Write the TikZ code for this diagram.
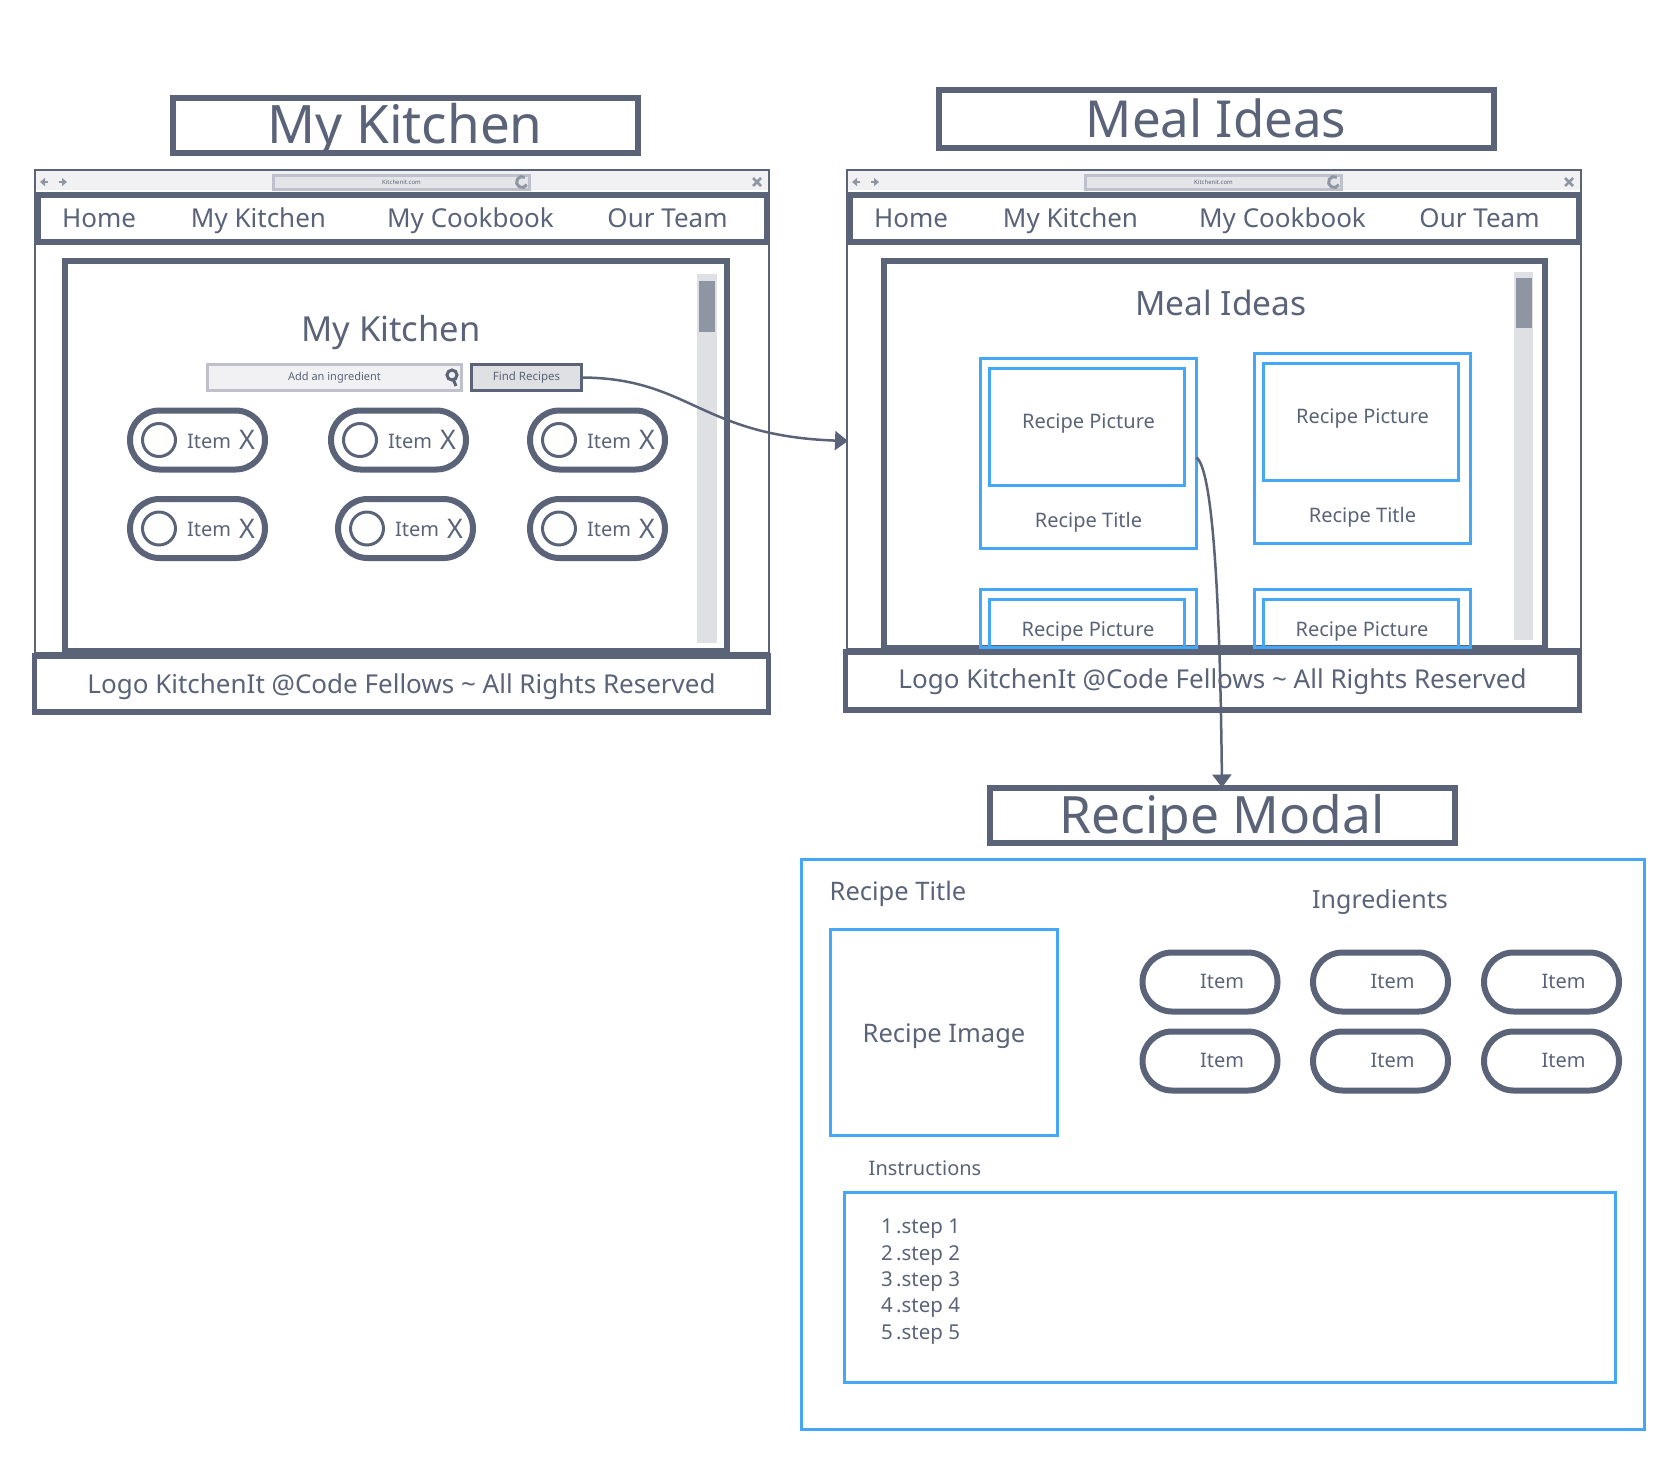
\documentclass[tikz,border=0pt]{standalone}
\usepackage{fontspec}
\setmainfont{Noto Sans}
\usetikzlibrary{arrows.meta,shapes.misc}

\definecolor{ink}{HTML}{5A6378}
\definecolor{wire}{HTML}{44A7F7}
\definecolor{chrome}{HTML}{F1F1F3}
\definecolor{chromeline}{HTML}{BEC1CC}
\definecolor{track}{HTML}{DFE0E3}
\definecolor{thumb}{HTML}{8F96A3}

\tikzset{
  every node/.style={text=ink,inner sep=0pt,outer sep=0pt},
  titlebox/.style={draw=ink,line width=6pt,minimum width=465pt,minimum height=55pt,
    text height=36pt,text depth=0pt,font=\fontsize{51.5pt}{56pt}\selectfont},
  framebox/.style={draw=ink,line width=2.5pt,minimum width=734pt},
  navbox/.style={draw=ink,line width=6pt,fill=white,minimum width=729pt,minimum height=47pt},
  panebox/.style={draw=ink,line width=6pt},
  footbox/.style={draw=ink,line width=5.5pt,fill=white,minimum width=734pt,
    text height=18pt,text depth=0pt,font=\fontsize{26pt}{30pt}\selectfont},
  navtext/.style={anchor=base,font=\fontsize{26pt}{30pt}\selectfont},
  headtext/.style={anchor=base,font=\fontsize{33.5pt}{38pt}\selectfont},
  bodytext/.style={font=\fontsize{20pt}{24pt}\selectfont},
  bigtext/.style={anchor=base,font=\fontsize{25.5pt}{30pt}\selectfont},
  tinytext/.style={font=\fontsize{6pt}{7pt}\selectfont},
  smalltext/.style={font=\fontsize{11pt}{14pt}\selectfont},
  scrolltrack/.style={fill=track,minimum width=19pt},
  scrollthumb/.style={fill=thumb,minimum width=16pt},
  pill/.style={rounded rectangle,draw=ink,line width=6pt,minimum width=135pt,minimum height=59pt},
  itemring/.style={circle,draw=ink,line width=3pt,minimum size=33pt},
  crosstext/.style={font=\fontsize{27pt}{30pt}\selectfont},
  wirebox/.style={draw=wire,line width=3pt},
  link/.style={draw=ink,line width=2.5pt,-{Triangle[length=13pt,width=19pt]}},
  chromeicon/.style={draw=thumb,line width=2.5pt}
}

\newcommand\browser[4]{
\begin{scope}[xshift=#2pt]
\node[framebox,minimum height=#4pt] (#1Frame) at (402,#3) {};
\fill[chrome] (36,171) rectangle (768,190);
\node[draw=chromeline,fill=track!70!chrome,line width=3pt,minimum width=256pt,minimum height=14pt,tinytext] (#1Url) at (401.5,182) {Kitchenit.com};
\draw[chromeicon,-{Triangle[length=5pt,width=8pt]}] (48,182) -- (40,182);
\draw[chromeicon,-{Triangle[length=5pt,width=8pt]}] (59,182) -- (67,182);
\draw[chromeicon,line width=3pt] (526.8,184.8) arc (30:300:5.5);
\draw[chromeicon] (753,178) -- (761,186) (753,186) -- (761,178);
\node[navbox] (#1Nav) at (402.5,218) {};
\node[navtext] (#1Home) at (99,227) {Home};
\node[navtext] (#1Kitchen) at (258.5,227) {My Kitchen};
\node[navtext] (#1Cookbook) at (470.5,227) {My Cookbook};
\node[navtext] (#1Team) at (667.5,227) {Our Team};
\end{scope}
}

\newcommand\pantryItem[3]{
\node[pill] (#1) at (#2,#3) {};
\node[itemring] (#1Ring) at ([xshift=-38.5pt]#1.center) {};
\node[bodytext] (#1Text) at ([xshift=11.5pt,yshift=-1pt]#1.center) {Item};
\node[crosstext] (#1Cross) at ([xshift=49.5pt]#1.center) {X};
}

\newcommand\ingredientItem[3]{
\node[pill] (#1) at (#2,#3) {};
\node[bodytext] (#1Text) at ([xshift=12pt,yshift=1pt]#1.center) {Item};
}

\newcommand\recipeCard[3]{
\node[wirebox,minimum width=216pt,minimum height=190pt] (#1) at (#2,#3) {};
\node[wirebox,minimum width=195pt,minimum height=117pt] (#1Pic) at ([xshift=-2pt,yshift=26.5pt]#1.center) {};
\node[bodytext] (#1PicText) at ([yshift=29.5pt]#1.center) {Recipe Picture};
\node[bodytext] (#1Title) at ([yshift=-68.5pt]#1.center) {Recipe Title};
}

\begin{document}
\begin{tikzpicture}[x=1pt,y=-1pt]
\useasboundingbox (0,0) rectangle (1656,1457);

\node[titlebox,font=\fontsize{53pt}{56pt}\selectfont] (kitchenTitle) at (405,125) {My Kitchen};
\node[titlebox,font=\fontsize{51pt}{56pt}\selectfont,minimum width=555pt,minimum height=58pt] (mealTitle) at (1216,119) {Meal Ideas};

\browser{kitchen}{0}{411.5}{483}
\browser{meal}{812}{409.5}{479}

\node[panebox,minimum width=662pt,minimum height=390pt] (kitchenPane) at (396,456) {};
\node[scrolltrack,minimum width=20pt,minimum height=369pt] (kitchenTrack) at (707,458.5) {};
\node[scrollthumb,minimum height=51pt] (kitchenThumb) at (707,306.5) {};
\node[headtext,font=\fontsize{34.5pt}{38pt}\selectfont] (kitchenHead) at (391,341) {My Kitchen};

\node[draw=chromeline,fill=chrome,line width=3pt,minimum width=254pt,minimum height=26pt,smalltext] (searchBox) at (334.5,377.5) {\raisebox{-1pt}{Add an ingredient}};
\draw[draw=ink,line width=3pt] (452,375) circle (5);
\draw[draw=ink,line width=3pt] (453.5,380) -- (456,386);
\node[draw=ink,fill=track,line width=3pt,minimum width=110pt,minimum height=26pt,font=\fontsize{11.5pt}{14pt}\selectfont] (findRecipes) at (526.5,377.5) {\raisebox{-1pt}{Find Recipes}};

\pantryItem{itemA}{197.5}{440}
\pantryItem{itemB}{398.5}{440}
\pantryItem{itemC}{597.5}{440}
\pantryItem{itemD}{197.5}{528.5}
\pantryItem{itemE}{405.5}{528.5}
\pantryItem{itemF}{597.5}{528.5}

\node[footbox,minimum height=56pt] (kitchenFoot) at (401.5,684) {Logo KitchenIt @Code Fellows \textasciitilde{} All Rights Reserved};

\node[panebox,minimum width=661pt,minimum height=387pt] (mealPane) at (1214.5,454.5) {};
\node[scrolltrack,minimum height=368pt] (mealTrack) at (1523.5,456) {};
\node[scrollthumb,minimum height=50pt] (mealThumb) at (1524,303) {};
\node[headtext] (mealHead) at (1221,315) {Meal Ideas};

\node[footbox,minimum height=58pt,text height=14pt] (mealFoot) at (1212.5,681) {Logo KitchenIt @Code Fellows \textasciitilde{} All Rights Reserved};

\recipeCard{cardA}{1088.5}{453.5}
\recipeCard{cardB}{1362.5}{448.5}

\node[wirebox,minimum width=216pt,minimum height=58pt] (cardC) at (1088.5,618) {};
\node[wirebox,minimum width=195pt,minimum height=48pt] (cardCPic) at (1086.5,623.5) {};
\node[bodytext] (cardCText) at (1088,632) {Recipe Picture};

\node[wirebox,minimum width=216pt,minimum height=58pt] (cardD) at (1362.5,618) {};
\node[wirebox,minimum width=195pt,minimum height=48pt] (cardDPic) at (1360.5,623.5) {};
\node[bodytext] (cardDText) at (1362,632) {Recipe Picture};

\node[titlebox] (modalTitle) at (1222,815) {Recipe Modal};

\node[wirebox,minimum width=843pt,minimum height=570pt] (modalBox) at (1222.5,1144.5) {};
\node[bigtext] (modalRecipe) at (898,900) {Recipe Title};
\node[bigtext,font=\fontsize{25pt}{30pt}\selectfont] (modalIngredients) at (1380,908) {Ingredients};

\node[wirebox,minimum width=227pt,minimum height=206pt] (recipeImage) at (944,1032) {};
\node[font=\fontsize{25.5pt}{30pt}\selectfont] (recipeImageText) at (944,1036) {Recipe Image};

\ingredientItem{ingredientA}{1210}{982}
\ingredientItem{ingredientB}{1380.5}{982}
\ingredientItem{ingredientC}{1551.5}{982}
\ingredientItem{ingredientD}{1210}{1061}
\ingredientItem{ingredientE}{1380.5}{1061}
\ingredientItem{ingredientF}{1551.5}{1061}

\node[bodytext] (instructions) at (925,1168) {Instructions};
\node[wirebox,minimum width=771pt,minimum height=190pt] (stepsBox) at (1229.5,1287) {};
\foreach \n in {1,...,5}
  \node[bodytext,anchor=west,font=\fontsize{20.5pt}{24pt}\selectfont] (step\n) at (881,{1229+(\n-1)*26.3}) {\n\,.step \n};

\coordinate (mealEntry) at (848,441);
\draw[link] (findRecipes.east) .. controls (690,378) and (700,436) .. (mealEntry);
\draw[link] ([yshift=-4pt]cardA.east) .. controls (1213,470) and (1220,600) .. (modalTitle.north);
\end{tikzpicture}
\end{document}
